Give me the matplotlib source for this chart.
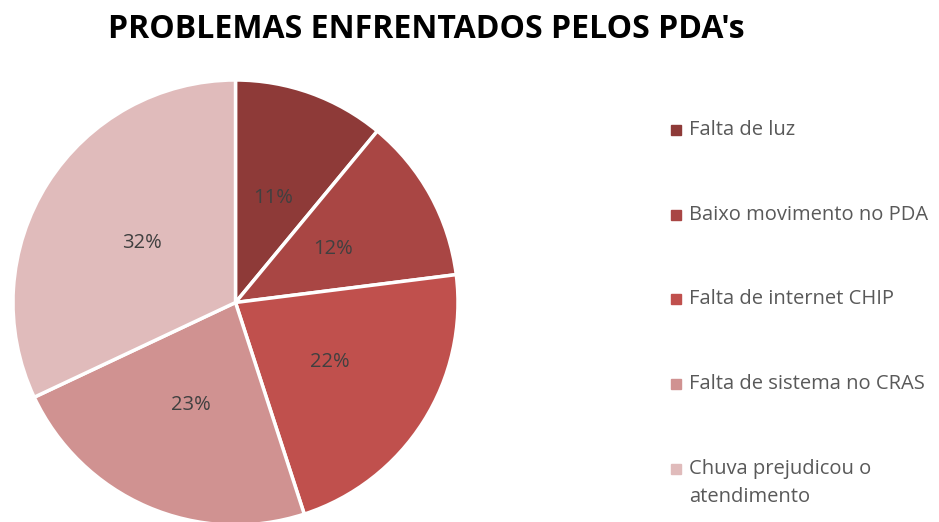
import matplotlib
matplotlib.use("Agg")
import matplotlib.pyplot as plt

categories = ["Falta de luz", "Baixo movimento no PDA", "Falta de internet CHIP",
              "Falta de sistema no CRAS", "Chuva prejudicou o\natendimento"]
values = [11, 12, 22, 23, 32]
colors = ["#8E3A38", "#A94644", "#C0504D", "#D09291", "#E0BBBB"]
title = "PROBLEMAS ENFRENTADOS PELOS PDA's"

plt.rcParams['font.family'] = ['Open Sans', 'DejaVu Sans']

fig = plt.figure(figsize=(9.39, 5.22), dpi=100)
ax = fig.add_axes([13 / 939, -3 / 522, 445 / 939, 445 / 522])

wedges, texts, autotexts = ax.pie(
    values, colors=colors, startangle=90, counterclock=False,
    autopct='%1.0f%%', pctdistance=0.5, radius=1,
    wedgeprops=dict(edgecolor='white', linewidth=2.5),
    textprops=dict(color='#404040', fontsize=14.5))
ax.set_xlim(-1.0, 1.0)
ax.set_ylim(-1.0, 1.0)
ax.set_aspect('equal')

fig.text(426 / 939, 1 - 29 / 522, title, ha='center', va='center',
         fontsize=23, fontweight='bold', color='black')

rows = [130, 215, 299, 384, 469]
for lab, col, y in zip(categories, colors, rows):
    yf = 1 - y / 522
    fig.patches.append(plt.Rectangle((671 / 939, yf - 5 / 522), 10 / 939, 10 / 522,
                                     transform=fig.transFigure, color=col))
    two = '\n' in lab
    fig.text(689 / 939, yf - (14 / 522 if two else 0), lab, ha='left',
             va='center', fontsize=14.5, color='#595959', linespacing=1.5)

fig.savefig("out.png", dpi=100)
